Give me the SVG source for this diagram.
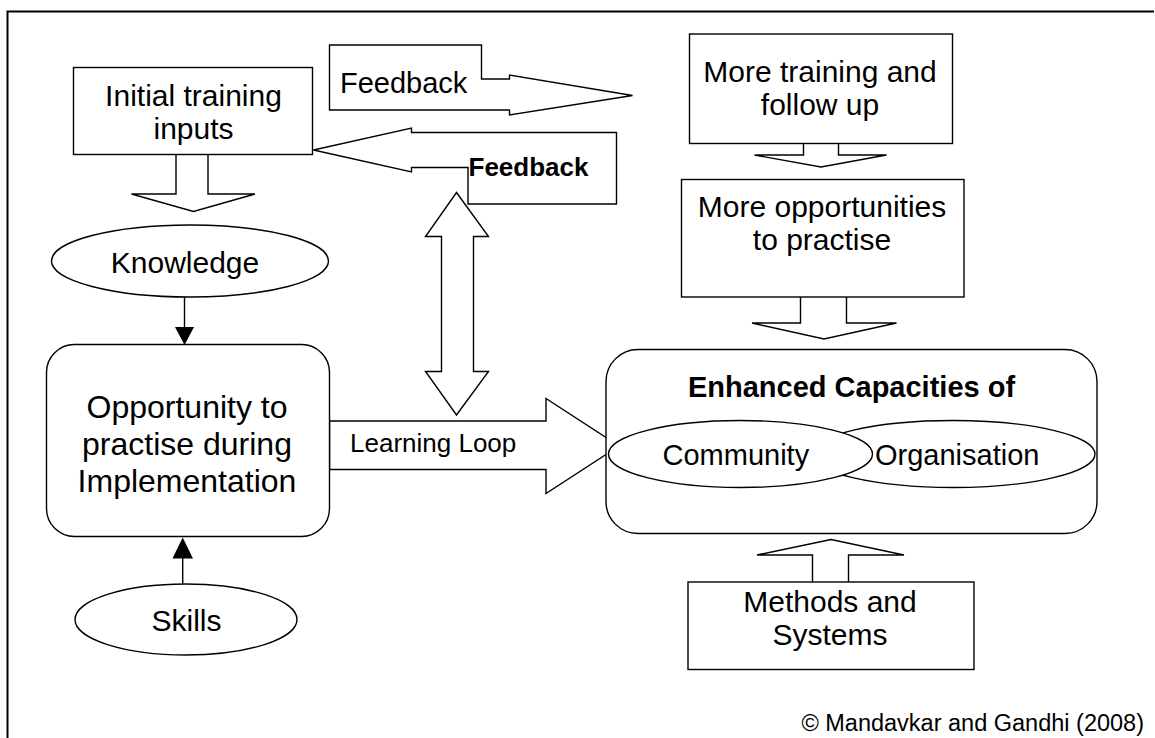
<svg xmlns="http://www.w3.org/2000/svg" width="1155" height="738" viewBox="0 0 1155 738">
  <style>
    .shape { fill: #ffffff; stroke: #000000; stroke-width: 1.4; stroke-linejoin: miter; }
    .line { fill: none; stroke: #000000; stroke-width: 1.4; }
    .head { fill: #000000; stroke: none; }
    .frame { fill: none; stroke: #000000; stroke-width: 2; }
    text { font-family: "Liberation Sans", Arial, Helvetica, sans-serif; fill: #000000; }
    .t30 { font-size: 30px; }
    .t29 { font-size: 29px; }
    .mid { text-anchor: middle; }
    .bold { font-weight: bold; }
  </style>
  <rect x="0" y="0" width="1155" height="738" fill="#ffffff"/>

  <!-- page frame -->
  <path class="frame" d="M7.5,738 V11.5 H1154"/>

  <!-- block arrows and connectors -->
  <g id="connectors">
    <!-- Initial training inputs down to Knowledge -->
    <polyline class="shape" points="176,154.5 176,194 131.5,194 193.5,211.5 255,194 208,194 208,154.5"/>
    <!-- Knowledge to Opportunity -->
    <line class="line" x1="184.5" y1="297" x2="184.5" y2="328"/>
    <polygon class="head" points="175,327 194,327 184.5,345"/>
    <!-- Skills to Opportunity -->
    <line class="line" x1="182.7" y1="584" x2="182.7" y2="556"/>
    <polygon class="head" points="172.5,558.5 193,558.5 182.7,537.5"/>
    <!-- two-way feedback arrow -->
    <polygon class="shape" points="456.5,192.5 488.5,236.5 473.5,236.5 473.5,371.5 488.5,371.5 456.5,415 425.5,371.5 441.5,371.5 441.5,236.5 425.5,236.5"/>
    <!-- learning loop arrow (tip tucked under the capacities box) -->
    <polygon class="shape" points="329.5,421 546,421 546,398.5 619,446 546,493.5 546,469.5 329.5,469.5"/>
    <!-- More training down to More opportunities -->
    <polyline class="shape" points="803.5,143.5 803.5,155 754.5,155 821,167 886.5,155 838.5,155 838.5,143.5"/>
    <!-- More opportunities down to Enhanced Capacities -->
    <polyline class="shape" points="800.5,297 800.5,323 752,323 824,339 896.5,323 846.5,323 846.5,297"/>
    <!-- Methods and Systems up to Enhanced Capacities -->
    <polyline class="shape" points="812.5,582 812.5,555 757,555 831,539.5 904,555 848.5,555 848.5,582"/>
  </g>

  <g id="initial-training">
    <rect class="shape" x="73.5" y="67.5" width="239" height="87"/>
    <text class="t30 mid" x="193.5" y="106">Initial training</text>
    <text class="t30 mid" x="193.5" y="139">inputs</text>
  </g>

  <g id="feedback-out">
    <polygon class="shape" points="329.5,45 481.5,45 481.5,79 509.5,79 509.5,75 632.5,95.5 509.5,115 509.5,110 329.5,110"/>
    <text class="t29" x="340" y="93">Feedback</text>
  </g>

  <g id="feedback-back">
    <polygon class="shape" points="313.5,150 411.5,128 411.5,132.5 616.5,132.5 616.5,204 468,204 468,167.5 411.5,167.5 411.5,172"/>
    <text class="bold" font-size="26" x="468.5" y="176">Feedback</text>
  </g>

  <g id="knowledge">
    <ellipse class="shape" cx="190" cy="261" rx="138.5" ry="36"/>
    <text class="t30 mid" x="185" y="273">Knowledge</text>
  </g>

  <g id="opportunity">
    <rect class="shape" x="46.5" y="344.5" width="283" height="192" rx="28" ry="28"/>
    <text class="mid" font-size="32" x="187" y="418">Opportunity to</text>
    <text class="mid" font-size="32" x="187" y="455">practise during</text>
    <text class="mid" font-size="32" x="187" y="492">Implementation</text>
  </g>

  <g id="skills">
    <ellipse class="shape" cx="186" cy="619.5" rx="111" ry="35.5"/>
    <text class="t30 mid" x="186.5" y="631">Skills</text>
  </g>

  <g id="learning-loop-label">
    <text font-size="26" x="350" y="452">Learning Loop</text>
  </g>

  <g id="more-training">
    <rect class="shape" x="689.5" y="34" width="263" height="109.5"/>
    <text class="t30 mid" x="820" y="82">More training and</text>
    <text class="t30 mid" x="820" y="115">follow up</text>
  </g>

  <g id="more-opportunities">
    <rect class="shape" x="681.5" y="179.5" width="282.5" height="117.5"/>
    <text class="t30 mid" x="822" y="217">More opportunities</text>
    <text class="t30 mid" x="822" y="250">to practise</text>
  </g>

  <g id="enhanced-capacities">
    <rect class="shape" x="606" y="349.5" width="491" height="184" rx="32" ry="32"/>
    <text class="bold mid" font-size="29" x="851.5" y="397">Enhanced Capacities of</text>
    <ellipse class="shape" cx="953" cy="454" rx="142" ry="33.5"/>
    <ellipse class="shape" cx="740.5" cy="454" rx="132" ry="33.5"/>
    <text class="t29" x="662.5" y="465">Community</text>
    <text class="t29" x="875" y="465">Organisation</text>
  </g>

  <g id="methods-systems">
    <rect class="shape" x="688" y="582" width="286" height="87.5"/>
    <text class="t30 mid" x="830" y="612">Methods and</text>
    <text class="t30 mid" x="830" y="645">Systems</text>
  </g>

  <g id="credit">
    <text font-size="23.5" x="1144" y="731" text-anchor="end">© Mandavkar and Gandhi (2008)</text>
  </g>
</svg>
